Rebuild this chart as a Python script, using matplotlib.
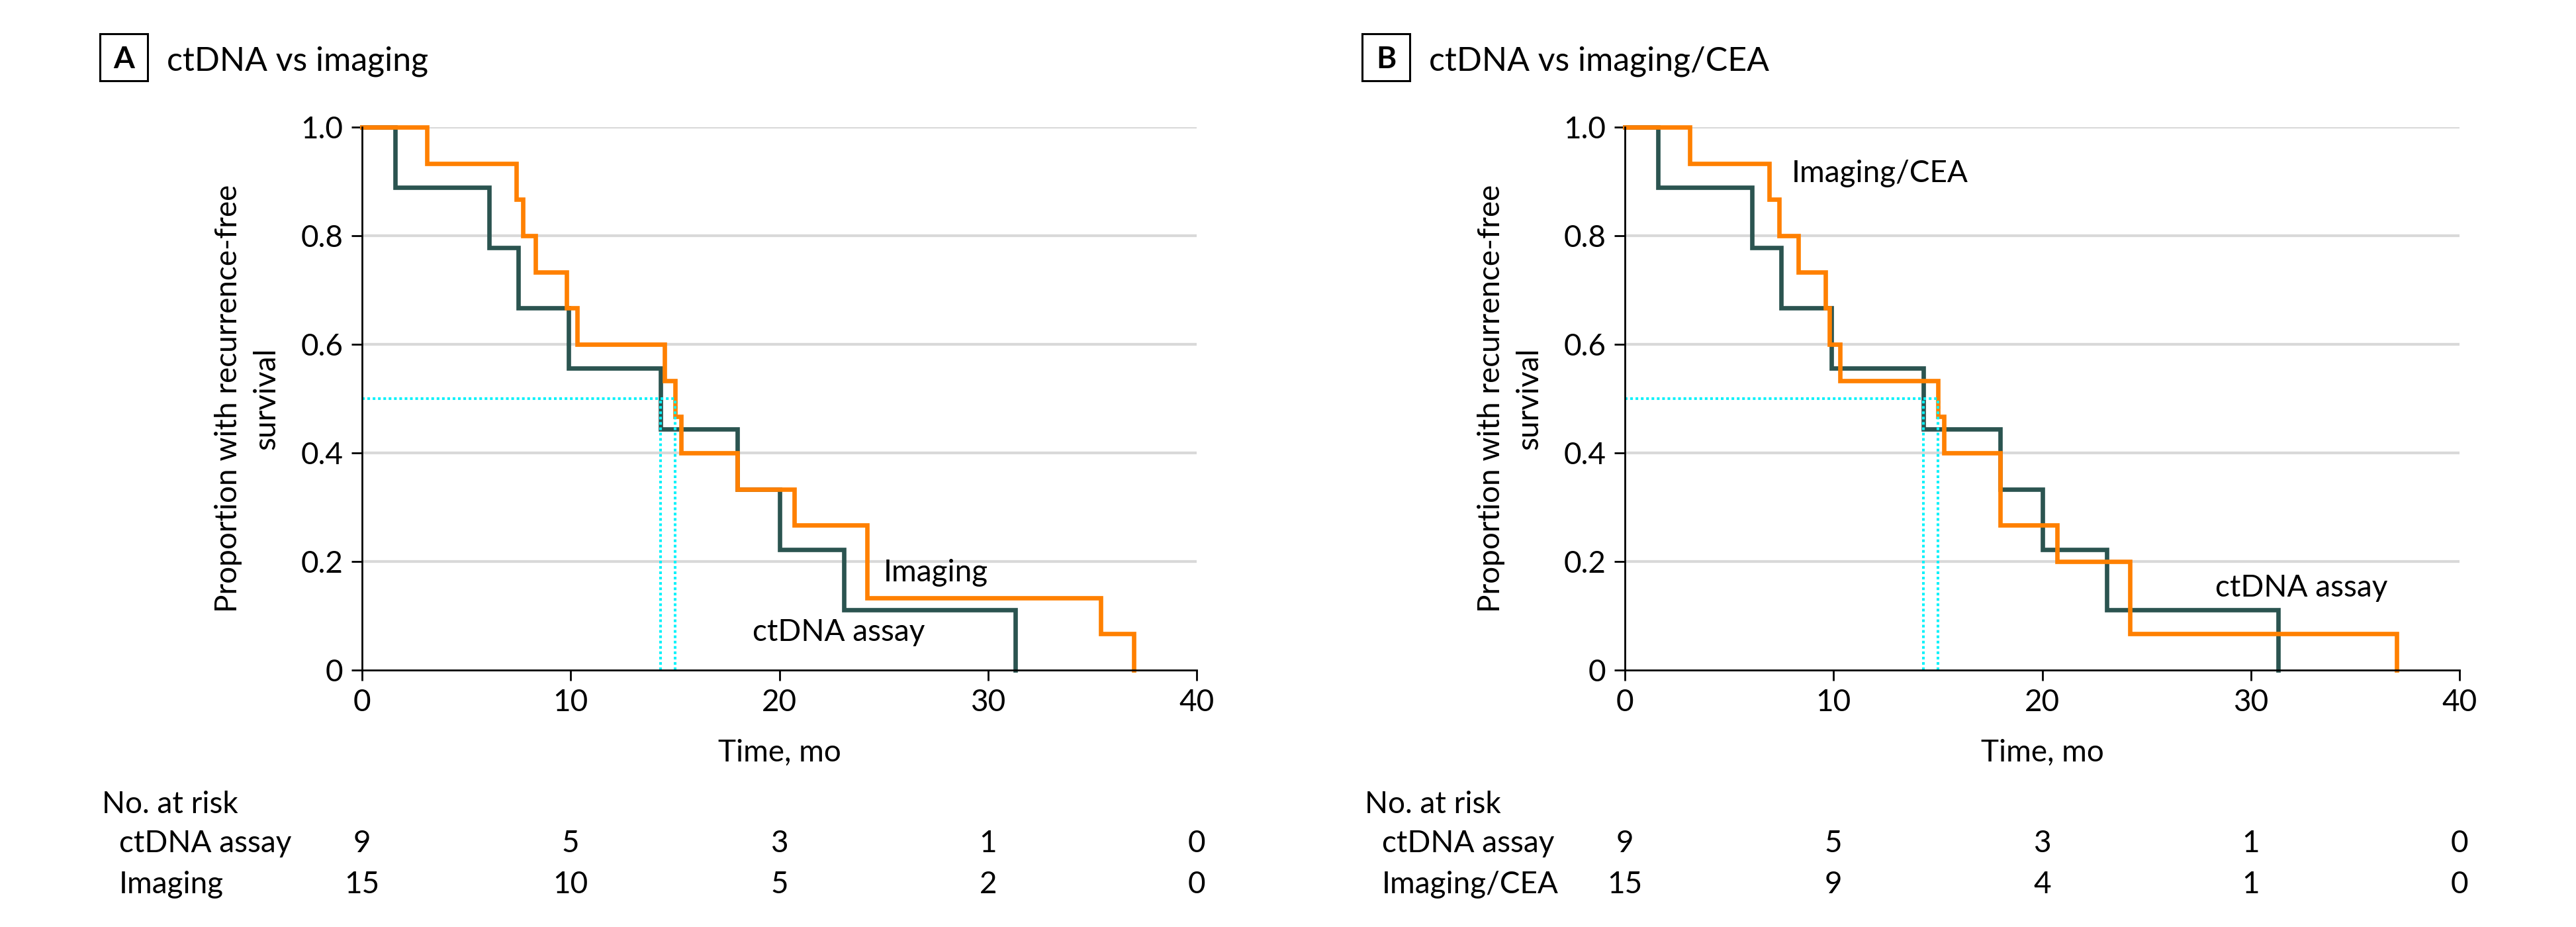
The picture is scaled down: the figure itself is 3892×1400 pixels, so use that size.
"""Kaplan-Meier curves: ctDNA vs imaging, ctDNA vs imaging/CEA."""
import matplotlib
matplotlib.use("Agg")
import matplotlib.pyplot as plt
from matplotlib.patches import Rectangle
from matplotlib.transforms import blended_transform_factory

plt.rcParams["font.family"] = ["Lato", "DejaVu Sans"]

# curves (time in months, proportion recurrence-free)
ctdna_t = [0, 1.6, 6.1, 7.5, 9.9, 14.3, 18.0, 20.0, 23.1, 31.3]
ctdna_s = [1.0, 0.889, 0.778, 0.667, 0.556, 0.444, 0.333, 0.222, 0.111, 0.0]

imaging_t = [0, 3.1, 7.4, 7.7, 8.3, 9.8, 10.3, 14.5, 15.0, 15.3, 18.0, 20.7, 24.2, 35.4, 37.0]
imaging_s = [1.0, 0.933, 0.867, 0.8, 0.733, 0.667, 0.6, 0.533, 0.467, 0.4, 0.333, 0.267, 0.133, 0.067, 0.0]

cea_t = [0, 3.1, 6.9, 7.4, 8.3, 9.6, 9.8, 10.3, 15.0, 15.3, 18.0, 20.7, 24.2, 37.0]
cea_s = [1.0, 0.933, 0.867, 0.8, 0.733, 0.667, 0.6, 0.533, 0.467, 0.4, 0.267, 0.2, 0.067, 0.0]

medians = [14.3, 15.0]

risk_times = [0, 10, 20, 30, 40]
risk_ctdna = [9, 5, 3, 1, 0]
risk_imaging = [15, 10, 5, 2, 0]
risk_cea = [15, 9, 4, 1, 0]

yticks = [0, 0.2, 0.4, 0.6, 0.8, 1.0]
ytick_labels = ["0", "0.2", "0.4", "0.6", "0.8", "1.0"]

DARK = "#2b5450"
ORANGE = "#ff8000"
CYAN = "#0af2fa"
GRID = "#d9d9d9"
FS = 33

W, H = 3892, 1400


def panel_title(fig, x_box, letter, title):
    fig.patches.append(Rectangle((x_box / W, 1 - 122 / H), 72 / W, 71 / H,
                                 transform=fig.transFigure, fill=False,
                                 edgecolor="black", linewidth=2.2))
    fig.text((x_box + 36) / W, 1 - 103 / H, letter, ha="center", va="baseline",
             fontsize=FS, weight="bold")
    fig.text((x_box + 101) / W, 1 - 106 / H, title, ha="left", va="baseline",
             fontsize=36)


def km_panel(ax, other_t, other_s, other_name, risk_other, labels):
    ax.set_xlim(0, 40)
    ax.set_ylim(0, 1)
    for y in yticks[1:]:
        ax.axhline(y, color=GRID, linewidth=3.0, zorder=0)

    ax.step(ctdna_t, ctdna_s, where="post", color=DARK, linewidth=4.8,
            solid_joinstyle="miter", clip_on=False, zorder=3)
    ax.step(other_t, other_s, where="post", color=ORANGE, linewidth=4.8,
            solid_joinstyle="miter", clip_on=False, zorder=4)

    # median lines
    ax.plot([0, max(medians)], [0.5, 0.5], color=CYAN, linewidth=2.9,
            linestyle=(0, (1, 1)), zorder=5)
    for m in medians:
        ax.plot([m, m], [0, 0.5], color=CYAN, linewidth=2.9,
                linestyle=(0, (1, 1)), zorder=5)

    for txt, x, y in labels:
        ax.text(x, y, txt, fontsize=FS, ha="left", va="baseline", zorder=6)

    for side in ("top", "right"):
        ax.spines[side].set_visible(False)
    for side in ("left", "bottom"):
        ax.spines[side].set_linewidth(2.0)
        ax.spines[side].set_zorder(6)

    ax.set_xticks(risk_times)
    ax.set_yticks(yticks)
    ax.set_yticklabels(ytick_labels)
    ax.tick_params(direction="out", length=11.5, width=2.0, labelsize=FS, pad=9)

    ax.set_xlabel("Time, mo", fontsize=FS)
    ax.xaxis.set_label_coords(0.5, -0.126)
    ax.set_ylabel("Proportion with recurrence-free\nsurvival", fontsize=FS,
                  linespacing=1.45)
    ax.yaxis.set_label_coords(-0.098, 0.5)

    # number at risk table
    tr = blended_transform_factory(ax.transData, ax.transAxes)
    ax.text(-0.312, -0.2634, "No. at risk", transform=ax.transAxes,
            fontsize=FS, ha="left", va="baseline")
    rows = [("ctDNA assay", risk_ctdna, -0.3354), (other_name, risk_other, -0.411)]
    for name, vals, y in rows:
        ax.text(-0.291, y, name, transform=ax.transAxes, fontsize=FS,
                ha="left", va="baseline")
        for t, v in zip(risk_times, vals):
            ax.text(t, y, str(v), transform=tr, fontsize=FS, ha="center",
                    va="baseline", clip_on=False)


def main():
    fig = plt.figure(figsize=(W / 100, H / 100), dpi=100)
    fig.patch.set_facecolor("white")

    ax_a = fig.add_axes([547 / W, 388 / H, 1261 / W, 820 / H])
    km_panel(ax_a, imaging_t, imaging_s, "Imaging", risk_imaging,
             [("Imaging", 25.0, 0.164), ("ctDNA assay", 18.7, 0.054)])
    panel_title(fig, 151, "A", "ctDNA vs imaging")

    ax_b = fig.add_axes([2455 / W, 388 / H, 1261 / W, 820 / H])
    km_panel(ax_b, cea_t, cea_s, "Imaging/CEA", risk_cea,
             [("Imaging/CEA", 8.0, 0.899), ("ctDNA assay", 28.3, 0.135)])
    panel_title(fig, 2058, "B", "ctDNA vs imaging/CEA")

    fig.savefig("out.png", dpi=100, facecolor="white")
    plt.close(fig)


if __name__ == "__main__":
    main()
